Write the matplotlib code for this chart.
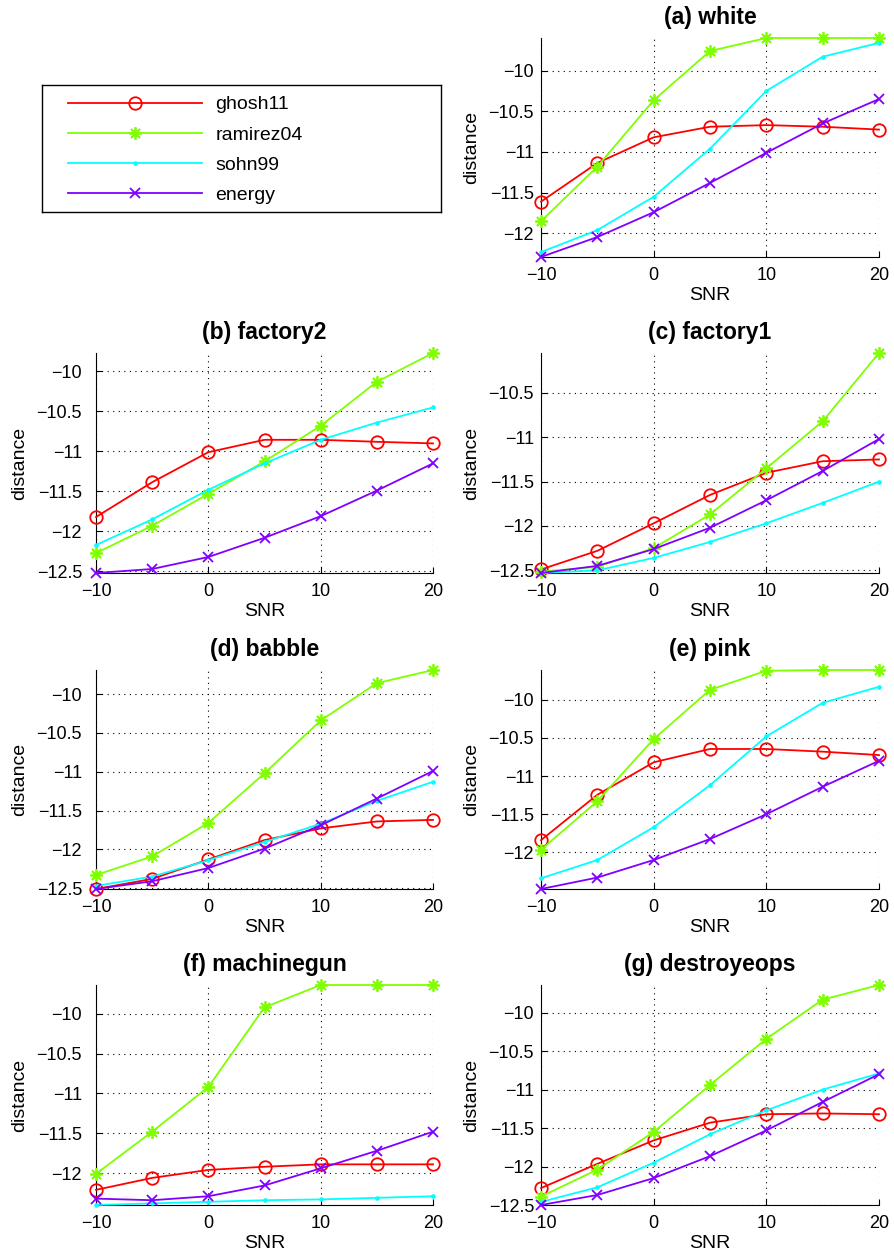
import numpy as np
import matplotlib.pyplot as plt
from matplotlib.ticker import MultipleLocator, FuncFormatter

plt.rcParams['font.family'] = ['Liberation Sans', 'DejaVu Sans']

snr = [-10, -5, 0, 5, 10, 15, 20]
methods = ['ghosh11', 'ramirez04', 'sohn99', 'energy']

# rows: ghosh11, ramirez04, sohn99, energy
white = [[-11.61, -11.135, -10.82, -10.69, -10.67, -10.69, -10.725],
         [-11.85, -11.18, -10.365, -9.76, -9.60, -9.60, -9.60],
         [-12.23, -11.96, -11.55, -10.96, -10.25, -9.83, -9.66],
         [-12.29, -12.045, -11.74, -11.38, -11.01, -10.65, -10.35]]
factory2 = [[-11.82, -11.385, -11.01, -10.855, -10.855, -10.88, -10.90],
            [-12.27, -11.93, -11.53, -11.125, -10.68, -10.13, -9.77],
            [-12.17, -11.85, -11.48, -11.15, -10.855, -10.64, -10.45],
            [-12.52, -12.47, -12.32, -12.08, -11.81, -11.49, -11.15]]
factory1 = [[-12.49, -12.28, -11.97, -11.65, -11.40, -11.27, -11.25],
            [-12.515, -12.46, -12.25, -11.87, -11.35, -10.82, -10.05],
            [-12.53, -12.50, -12.36, -12.18, -11.97, -11.74, -11.50],
            [-12.53, -12.45, -12.26, -12.02, -11.71, -11.38, -11.02]]
babble = [[-12.51, -12.38, -12.13, -11.88, -11.73, -11.64, -11.62],
          [-12.33, -12.09, -11.66, -11.02, -10.34, -9.86, -9.69],
          [-12.47, -12.35, -12.14, -11.905, -11.67, -11.375, -11.13],
          [-12.51, -12.41, -12.24, -11.99, -11.69, -11.345, -10.99]]
pink = [[-11.84, -11.245, -10.82, -10.645, -10.645, -10.68, -10.725],
        [-11.965, -11.33, -10.515, -9.87, -9.62, -9.61, -9.61],
        [-12.34, -12.10, -11.67, -11.12, -10.48, -10.04, -9.83],
        [-12.48, -12.33, -12.10, -11.825, -11.50, -11.14, -10.80]]
machinegun = [[-12.21, -12.06, -11.96, -11.92, -11.89, -11.89, -11.89],
              [-12.01, -11.48, -10.92, -9.92, -9.64, -9.64, -9.64],
              [-12.40, -12.38, -12.36, -12.34, -12.33, -12.31, -12.29],
              [-12.32, -12.34, -12.29, -12.155, -11.94, -11.72, -11.48]]
destroyeops = [[-12.28, -11.965, -11.66, -11.43, -11.32, -11.31, -11.32],
               [-12.39, -12.04, -11.55, -10.94, -10.34, -9.83, -9.64],
               [-12.46, -12.27, -11.95, -11.58, -11.27, -11.00, -10.79],
               [-12.50, -12.37, -12.15, -11.865, -11.53, -11.16, -10.80]]

panels = [('(a) white', white), ('(b) factory2', factory2), ('(c) factory1', factory1),
          ('(d) babble', babble), ('(e) pink', pink), ('(f) machinegun', machinegun),
          ('(g) destroyeops', destroyeops)]

colors = ['#ff0000', '#7fff00', '#00ffff', '#8000ff']
markers = ['o', (8, 2, 0), '.', 'x']
msizes = [9, 9, 4, 7]

fig = plt.figure(figsize=(8.95, 12.58), dpi=100)

# axes boxes in pixels (left, top, right, bottom)
slots = [(541, 38, 879, 257),
         (96, 353, 433, 573), (541, 353, 879, 573),
         (96, 670, 433, 889), (541, 670, 879, 889),
         (96, 985, 433, 1205), (541, 985, 879, 1205)]
W, H = 895., 1258.

minus = lambda v, pos: ('%g' % v).replace('-', '\u2212')

handles = []
for (title, data), (l, t, r, b) in zip(panels, slots):
    ax = fig.add_axes([l / W, 1 - b / H, (r - l) / W, (b - t) / H])
    for i in range(4):
        ln, = ax.plot(snr, data[i], color=colors[i], marker=markers[i], ms=msizes[i],
                      mfc='none' if i == 0 else colors[i], mew=1.3, lw=1.3, clip_on=False,
                      label=methods[i], zorder=3)
        if len(handles) < 4:
            handles.append(ln)
    allv = np.array(data)
    ax.set_xlim(-10, 20)
    ax.set_ylim(allv.min(), allv.max())
    ax.xaxis.set_major_locator(MultipleLocator(10))
    ax.yaxis.set_major_locator(MultipleLocator(0.5))
    ax.xaxis.set_major_formatter(FuncFormatter(minus))
    ax.yaxis.set_major_formatter(FuncFormatter(minus))
    for s in ['top', 'right']:
        ax.spines[s].set_visible(False)
    ax.grid(True, color='k', ls=(0, (1, 4)), lw=0.8)
    ypad = 10 if l < 300 else 5
    ax.tick_params(axis='y', direction='in', length=4, labelsize=13, pad=ypad)
    ax.tick_params(axis='x', direction='in', length=4, labelsize=13, pad=7)
    ax.set_title(title, fontsize=16.5, fontweight='bold', pad=10)
    ax.set_xlabel('SNR', fontsize=14, labelpad=2)
    ax.set_ylabel('distance', fontsize=14, labelpad=6)

lax = fig.add_axes([42 / W, 1 - 212 / H, 399 / W, 127 / H])
lax.set_xticks([])
lax.set_yticks([])
for s in lax.spines.values():
    s.set_linewidth(1.0)
lax.legend(handles, methods, loc='upper left', bbox_to_anchor=(0.065, 0.915), frameon=False,
           fontsize=14, handlelength=6.9, handletextpad=0.67, labelspacing=0.65,
           borderpad=0, borderaxespad=0)

fig.savefig('out.png', dpi=100)
